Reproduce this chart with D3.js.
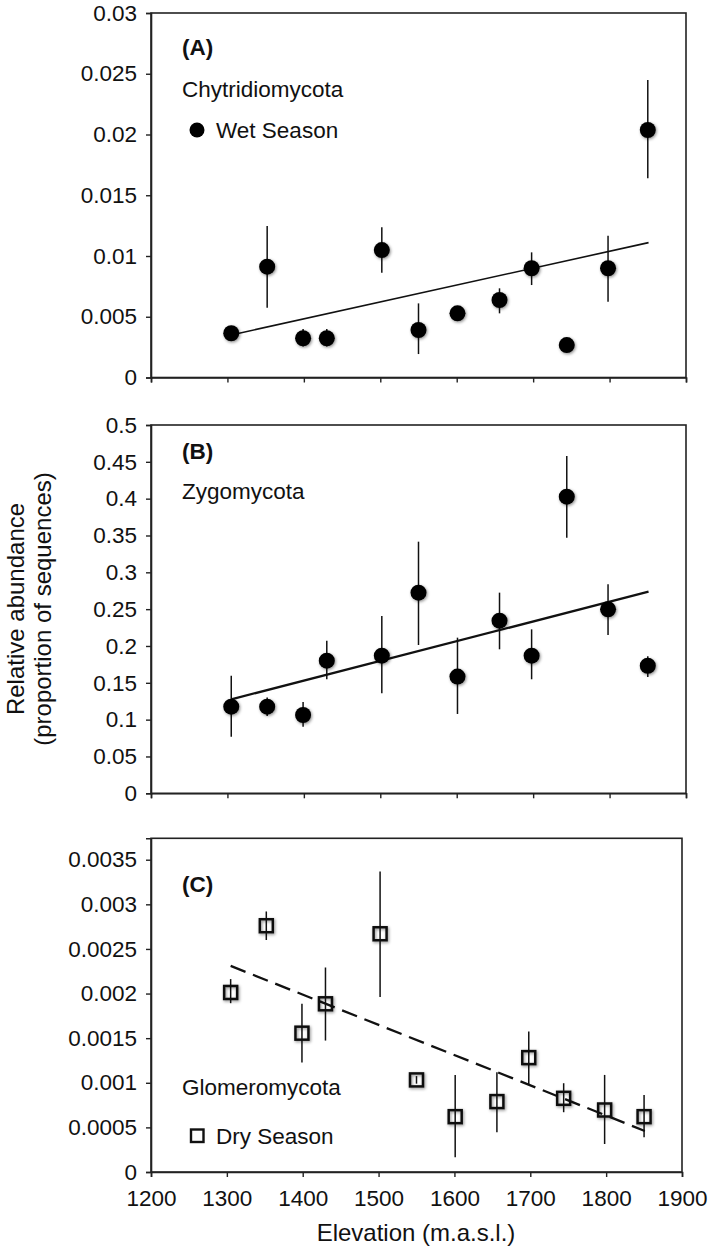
<!DOCTYPE html>
<html><head><meta charset="utf-8">
<script src="https://cdn.jsdelivr.net/npm/d3@7"></script>
<style>
html,body{margin:0;padding:0;background:#fff;}
svg text{font-family:"Liberation Sans",Arial,Helvetica,sans-serif;fill:#111;}
</style></head>
<body>
<svg id="chart" width="709" height="1248"></svg>
<script>
// ---- data ----
const elevation = [1305, 1352, 1399, 1430, 1502, 1550, 1601, 1656, 1698, 1744, 1798, 1850];

const chytridMean = [0.00364, 0.00912, 0.00323, 0.00323, 0.01049, 0.00391, 0.00528, 0.00638, 0.00899, 0.00267, 0.00899, 0.02037];
const chytridLow  = [0.00345, 0.00575, 0.00255, 0.00255, 0.00863, 0.00193, 0.00510, 0.00528, 0.00761, 0.00255, 0.00624, 0.01639];
const chytridHigh = [0.00385, 0.01247, 0.00400, 0.00400, 0.01236, 0.00610, 0.00545, 0.00734, 0.01030, 0.00280, 0.01167, 0.02449];

const zygoMean = [0.1176, 0.1176, 0.1063, 0.1800, 0.1868, 0.2724, 0.1584, 0.2344, 0.1868, 0.4027, 0.2498, 0.1732];
const zygoLow  = [0.0768, 0.1050, 0.0905, 0.1550, 0.1358, 0.2013, 0.1077, 0.1955, 0.1548, 0.3470, 0.2149, 0.1580];
const zygoHigh = [0.1597, 0.1300, 0.1240, 0.2072, 0.2407, 0.3416, 0.2113, 0.2724, 0.2226, 0.4579, 0.2837, 0.1860];

const glomMean = [0.002012, 0.00276, 0.001556, 0.001885, 0.00267, 0.001032, 0.00062, 0.000789, 0.001282, 0.000826, 0.000695, 0.00062];
const glomLow  = [0.001892, 0.00260, 0.001226, 0.001473, 0.00196, 0.000990, 0.000165, 0.000445, 0.000987, 0.000670, 0.000314, 0.000389];
const glomHigh = [0.002162, 0.00292, 0.001885, 0.002292, 0.003369, 0.001075, 0.001088, 0.001118, 0.001574, 0.000995, 0.001088, 0.000864];

const trendElev = [1305, 1851];
const trendA = [0.0035, 0.0111];
const trendB = [0.1276, 0.2737];
const trendC = [0.00231, 0.00046];

const xTicks = [1200, 1300, 1400, 1500, 1600, 1700, 1800, 1900];
const xTickLabels = ["1200", "1300", "1400", "1500", "1600", "1700", "1800", "1900"];
const yTicksA = [0, 0.005, 0.01, 0.015, 0.02, 0.025, 0.03];
const yLabelsA = ["0", "0.005", "0.01", "0.015", "0.02", "0.025", "0.03"];
const yTicksB = [0, 0.05, 0.1, 0.15, 0.2, 0.25, 0.3, 0.35, 0.4, 0.45, 0.5];
const yLabelsB = ["0", "0.05", "0.1", "0.15", "0.2", "0.25", "0.3", "0.35", "0.4", "0.45", "0.5"];
const yTicksC = [0, 0.0005, 0.001, 0.0015, 0.002, 0.0025, 0.003, 0.0035];
const yLabelsC = ["0", "0.0005", "0.001", "0.0015", "0.002", "0.0025", "0.003", "0.0035"];

// ---- drawing ----
const svg = d3.select("#chart");
const defs = svg.append("defs");
const f = defs.append("filter").attr("id", "shadow").attr("x", "-50%").attr("y", "-50%").attr("width", "200%").attr("height", "200%");
f.append("feDropShadow").attr("dx", 1).attr("dy", 1.2).attr("stdDeviation", 1.4)
  .attr("flood-color", "#000").attr("flood-opacity", 0.45);

const FS = "22.5px";

const panels = [
  {mean: chytridMean, low: chytridLow, high: chytridHigh, trend: trendA, yTicks: yTicksA, yLabels: yLabelsA,
   yDomain: [0, 0.03], top: 13, bottom: 377.5, left: 151, right: 686, marker: "circle", dashed: false, trendW: 1.6,
   showX: false},
  {mean: zygoMean, low: zygoLow, high: zygoHigh, trend: trendB, yTicks: yTicksB, yLabels: yLabelsB,
   yDomain: [0, 0.5], top: 425, bottom: 793.3, left: 151, right: 686, marker: "circle", dashed: false, trendW: 2.3,
   showX: false},
  {mean: glomMean, low: glomLow, high: glomHigh, trend: trendC, yTicks: yTicksC, yLabels: yLabelsC,
   yDomain: [0, 0.00374], top: 838.3, bottom: 1172, left: 151, right: 682, marker: "square", dashed: true, trendW: 2.3,
   showX: true}
];

panels.forEach(p => {
  const x = d3.scaleLinear().domain([1200, 1900]).range([p.left, p.right]);
  const y = d3.scaleLinear().domain(p.yDomain).range([p.bottom, p.top]);
  const g = svg.append("g");

  g.append("rect").attr("x", p.left).attr("y", p.top).attr("width", p.right - p.left).attr("height", p.bottom - p.top)
    .attr("fill", "none").attr("stroke", "#222").attr("stroke-width", 1.6);

  const yAxis = d3.axisLeft(y).tickValues(p.yTicks).tickSize(5).tickPadding(9)
    .tickFormat((d, i) => p.yLabels[i]);
  const ya = g.append("g").attr("transform", `translate(${p.left},0)`).call(yAxis);
  ya.select(".domain").attr("stroke", "#222").attr("stroke-width", 1.6);
  ya.selectAll(".tick line").attr("stroke", "#222").attr("stroke-width", 1.4);
  ya.selectAll(".tick text").style("font-size", FS).attr("fill", "#111");

  const xAxis = d3.axisBottom(x).tickValues(xTicks).tickSize(5).tickPadding(13)
    .tickFormat((d, i) => p.showX ? xTickLabels[i] : "");
  const xa = g.append("g").attr("transform", `translate(0,${p.bottom})`).call(xAxis);
  xa.select(".domain").attr("stroke", "#222").attr("stroke-width", 1.6);
  xa.selectAll(".tick line").attr("stroke", "#222").attr("stroke-width", 1.4);
  xa.selectAll(".tick text").style("font-size", FS).attr("fill", "#111");

  const line = d3.line().x(d => x(d[0])).y(d => y(d[1]));
  g.append("path").datum(trendElev.map((e, i) => [e, p.trend[i]])).attr("d", line)
    .attr("fill", "none").attr("stroke", "#111").attr("stroke-width", p.trendW)
    .attr("stroke-dasharray", p.dashed ? "16,8" : null);

  g.selectAll(".err").data(elevation).enter().append("line")
    .attr("x1", d => x(d)).attr("x2", d => x(d))
    .attr("y1", (d, i) => y(p.low[i])).attr("y2", (d, i) => y(p.high[i]))
    .attr("stroke", "#111").attr("stroke-width", 1.5);

  if (p.marker === "circle") {
    g.selectAll(".pt").data(elevation).enter().append("circle")
      .attr("cx", d => x(d)).attr("cy", (d, i) => y(p.mean[i])).attr("r", 8)
      .attr("fill", "#000").attr("filter", "url(#shadow)");
  } else {
    const s = 13;
    g.selectAll(".pt").data(elevation).enter().append("rect")
      .attr("x", d => x(d) - s / 2).attr("y", (d, i) => y(p.mean[i]) - s / 2)
      .attr("width", s).attr("height", s)
      .attr("fill", "none").attr("stroke", "#111").attr("stroke-width", 2.5).attr("filter", "url(#shadow)");
  }
});

const ann = svg.append("g");
ann.append("text").attr("x", 182).attr("y", 55).style("font-size", FS).style("font-weight", "bold").text("(A)");
ann.append("text").attr("x", 182).attr("y", 97).style("font-size", FS).text("Chytridiomycota");
ann.append("circle").attr("cx", 197).attr("cy", 130).attr("r", 7.5).attr("fill", "#000");
ann.append("text").attr("x", 216).attr("y", 138).style("font-size", FS).text("Wet Season");

ann.append("text").attr("x", 182).attr("y", 459).style("font-size", FS).style("font-weight", "bold").text("(B)");
ann.append("text").attr("x", 182).attr("y", 499).style("font-size", FS).text("Zygomycota");

ann.append("text").attr("x", 182).attr("y", 892).style("font-size", FS).style("font-weight", "bold").text("(C)");
ann.append("text").attr("x", 182).attr("y", 1095).style("font-size", FS).text("Glomeromycota");
ann.append("rect").attr("x", 191).attr("y", 1129.5).attr("width", 12.5).attr("height", 12.5)
  .attr("fill", "none").attr("stroke", "#111").attr("stroke-width", 2.4);
ann.append("text").attr("x", 216).attr("y", 1144).style("font-size", FS).text("Dry Season");

ann.append("text").attr("transform", "translate(24,609) rotate(-90)").attr("text-anchor", "middle")
  .style("font-size", "24px").text("Relative abundance");
ann.append("text").attr("transform", "translate(51,609) rotate(-90)").attr("text-anchor", "middle")
  .style("font-size", "24px").text("(proportion of sequences)");
ann.append("text").attr("x", 416).attr("y", 1241).attr("text-anchor", "middle")
  .style("font-size", "24px").text("Elevation (m.a.s.l.)");
</script>
</body></html>
